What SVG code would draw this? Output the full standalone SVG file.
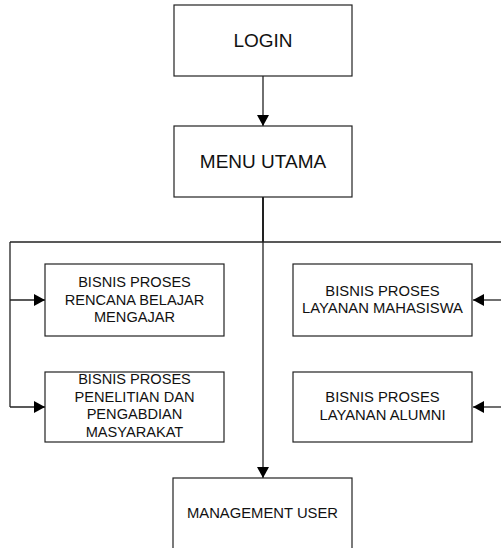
<svg xmlns="http://www.w3.org/2000/svg" width="501" height="548" viewBox="0 0 501 548">
<style>
.box{fill:#fff;stroke:#222;stroke-width:1.2}
.t{font-family:"Liberation Sans",Arial,sans-serif;fill:#111;text-anchor:middle}
.ln{fill:none;stroke:#222;stroke-width:1.3}
</style>
<defs>
<marker id="ah" markerWidth="12" markerHeight="12" refX="11" refY="6" orient="auto" markerUnits="userSpaceOnUse">
<path d="M0,0 L11,6 L0,12 Z" fill="#000"/>
</marker>
</defs>
<rect width="501" height="548" fill="#fff"/>
<g id="connectors">
<line class="ln" x1="263" y1="76" x2="263" y2="126" marker-end="url(#ah)"/>
<line class="ln" x1="263" y1="197" x2="263" y2="242" style="stroke-width:2"/>
<line class="ln" x1="10" y1="242" x2="501" y2="242"/>
<polyline class="ln" points="10,242 10,407"/>
<line class="ln" x1="10" y1="300" x2="45" y2="300" marker-end="url(#ah)"/>
<line class="ln" x1="10" y1="407" x2="45" y2="407" marker-end="url(#ah)"/>
<line class="ln" x1="501" y1="300" x2="473" y2="300" marker-end="url(#ah)"/>
<line class="ln" x1="501" y1="407" x2="473" y2="407" marker-end="url(#ah)"/>
<line class="ln" x1="263" y1="242" x2="263" y2="478" marker-end="url(#ah)"/>
</g>
<g id="login">
<rect class="box" x="174" y="5" width="178" height="71"/>
<text class="t" x="263" y="47" font-size="19">LOGIN</text>
</g>
<g id="menu">
<rect class="box" x="174" y="126" width="178" height="71"/>
<text class="t" x="263" y="168" font-size="19">MENU UTAMA</text>
</g>
<g id="rencana">
<rect class="box" x="45" y="264" width="179" height="72"/>
<text class="t" font-size="14.6" x="134.5" y="287">BISNIS PROSES</text>
<text class="t" font-size="14.6" x="134.5" y="304.5">RENCANA BELAJAR</text>
<text class="t" font-size="14.6" x="134.5" y="322">MENGAJAR</text>
</g>
<g id="penelitian">
<rect class="box" x="45" y="372" width="179" height="70"/>
<text class="t" font-size="14.6" x="134.5" y="384">BISNIS PROSES</text>
<text class="t" font-size="14.6" x="134.5" y="401.5">PENELITIAN DAN</text>
<text class="t" font-size="14.6" x="134.5" y="419">PENGABDIAN</text>
<text class="t" font-size="14.6" x="134.5" y="436.5">MASYARAKAT</text>
</g>
<g id="mahasiswa">
<rect class="box" x="293" y="264" width="179" height="72"/>
<text class="t" font-size="14.8" x="382.5" y="295.5">BISNIS PROSES</text>
<text class="t" font-size="14.8" x="382.5" y="313.3">LAYANAN MAHASISWA</text>
</g>
<g id="alumni">
<rect class="box" x="293" y="372" width="179" height="70"/>
<text class="t" font-size="14.8" x="382.5" y="402.3">BISNIS PROSES</text>
<text class="t" font-size="14.8" x="382.5" y="420">LAYANAN ALUMNI</text>
</g>
<g id="management">
<rect class="box" x="173" y="478" width="179" height="90"/>
<text class="t" font-size="14.8" x="262.5" y="518">MANAGEMENT USER</text>
</g>
</svg>
